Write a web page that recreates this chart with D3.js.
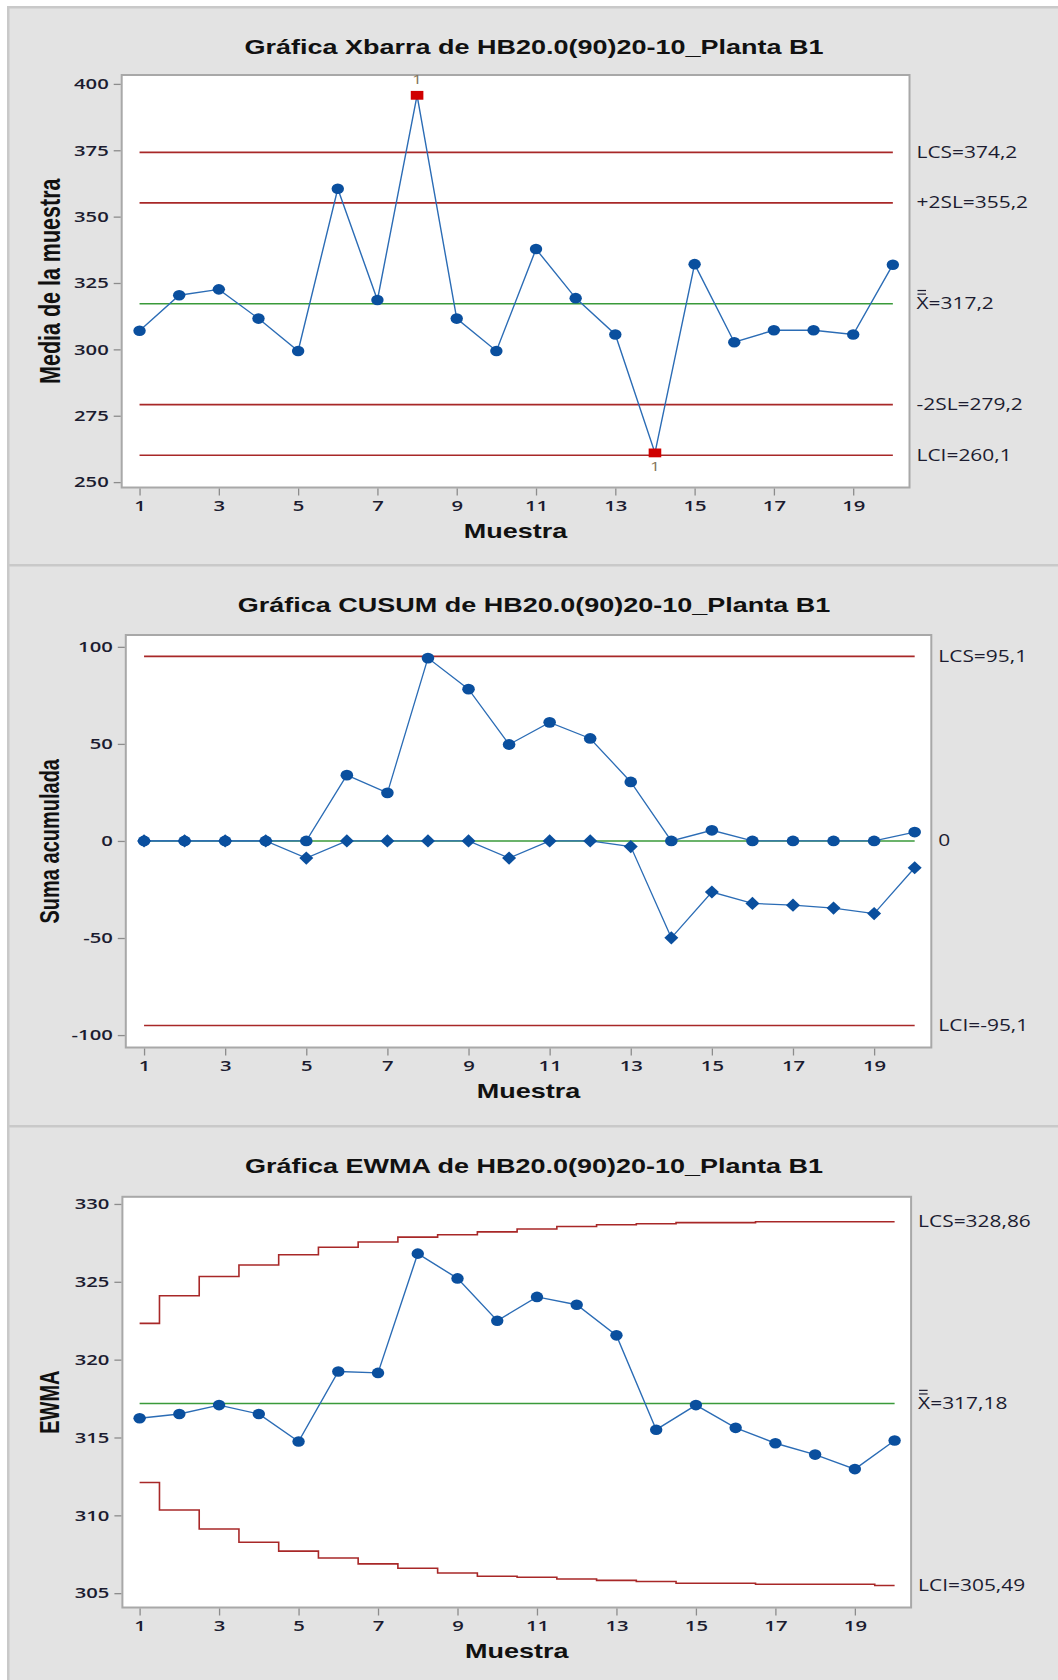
<!DOCTYPE html>
<html>
<head>
<meta charset="utf-8">
<script src="https://cdn.jsdelivr.net/npm/d3@7"></script>
<style>
body { margin: 0; background: #fff; }
svg { display: block; }
</style>
</head>
<body>
<div id="chart"></div>
<script>
// samples on the x axis
var samples = [1, 2, 3, 4, 5, 6, 7, 8, 9, 10, 11, 12, 13, 14, 15, 16, 17, 18, 19, 20];
var xTickValues = [1, 3, 5, 7, 9, 11, 13, 15, 17, 19];

// Xbarra chart
var xbarValues = [307.0, 320.4, 322.6, 311.6, 299.4, 360.5, 318.6, 395.7, 311.6, 299.4,
                  337.8, 319.3, 305.6, 261.0, 332.1, 302.7, 307.2, 307.2, 305.6, 331.9];
var xbarOutOfControl = [8, 14];
var xbarLimitValues = [374.2, 355.2, 317.2, 279.2, 260.1];
var xbarLimitLabels = ['LCS=374,2', '+2SL=355,2', 'X=317,2', '-2SL=279,2', 'LCI=260,1'];
var xbarTicks = [250, 275, 300, 325, 350, 375, 400];

// CUSUM chart
var cusumUpper = [0, 0, 0, 0, 0, 33.9, 24.8, 94.2, 78.2, 49.7,
                  61.1, 52.8, 30.4, 0, 5.5, 0, 0, 0, 0, 4.6];
var cusumLower = [0, 0, 0, 0, -8.8, 0, 0, 0, 0, -8.8,
                  0, 0, -2.9, -49.9, -26.3, -32.2, -33.1, -34.6, -37.4, -13.8];
var cusumLimitValues = [95.1, 0, -95.1];
var cusumLimitLabels = ['LCS=95,1', '0', 'LCI=-95,1'];
var cusumTicks = [-100, -50, 0, 50, 100];

// EWMA chart
var ewmaValues = [316.24, 316.51, 317.08, 316.51, 314.74, 319.24, 319.15, 326.81, 325.22, 322.50,
                  324.03, 323.53, 321.56, 315.50, 317.08, 315.62, 314.63, 313.90, 312.97, 314.81];
var ewmaUpper = [322.33, 324.10, 325.34, 326.08, 326.74, 327.22, 327.56, 327.87, 328.02, 328.21,
                 328.39, 328.55, 328.66, 328.73, 328.80, 328.80, 328.86, 328.86, 328.86, 328.86];
var ewmaLower = [312.11, 310.34, 309.12, 308.27, 307.70, 307.26, 306.88, 306.60, 306.30, 306.09,
                 306.02, 305.91, 305.82, 305.75, 305.64, 305.64, 305.57, 305.57, 305.57, 305.49];
var ewmaCenter = 317.18;
var ewmaLimitLabels = ['LCS=328,86', 'X=317,18', 'LCI=305,49'];
var ewmaTicks = [305, 310, 315, 320, 325, 330];

var SX = 1.35;  // the picture is stretched sideways
var color_line = '#2b6cb5';
var color_marker = '#0a4f9e';
var color_limit = '#a82828';
var color_center = '#3a9a3a';
var color_text = '#1c1c30';
var font_bold = "'Liberation Sans', Arial, sans-serif";
var font_reg = "'Open Sans', 'Noto Sans', sans-serif";

var svg = d3.select('#chart').append('svg')
    .attr('width', 1058)
    .attr('height', 1680);

function stretchedText(x, y, str){
    return svg.append('text')
        .attr('transform', 'translate(' + x + ',' + y + ') scale(' + SX + ',1)')
        .attr('fill', color_text)
        .text(str);
}

function plainNumber(d){ return String(d); }

function makePanel(p){
    svg.append('rect')
        .attr('x', 7).attr('y', p.y0)
        .attr('width', 1051).attr('height', p.y1 - p.y0)
        .attr('fill', '#e3e3e3');
    svg.append('rect')
        .attr('x', 7).attr('y', p.y0)
        .attr('width', 1051).attr('height', 2.5)
        .attr('fill', '#c9c9c9');
    svg.append('rect')
        .attr('x', 7).attr('y', p.y0)
        .attr('width', 2.5).attr('height', p.y1 - p.y0)
        .attr('fill', '#c9c9c9');

    var x = d3.scaleLinear().domain(p.xDomain).range([p.l, p.r]);
    var y = d3.scaleLinear().domain(p.yDomain).range([p.b, p.t]);

    svg.append('rect')
        .attr('x', p.l).attr('y', p.t)
        .attr('width', p.r - p.l).attr('height', p.b - p.t)
        .attr('fill', '#fff')
        .attr('stroke', '#a8a8a8')
        .attr('stroke-width', 2);

    var y_axis = svg.append('g')
        .attr('transform', 'translate(' + (p.l - 1) + ',0)')
        .call(d3.axisLeft(y).tickValues(p.yTicks).tickFormat(plainNumber).tickSize(7).tickPadding(5));
    y_axis.select('.domain').remove();
    y_axis.selectAll('line').attr('stroke', '#8c8c8c').attr('stroke-width', 1.3);
    y_axis.selectAll('text')
        .attr('x', 0)
        .attr('transform', 'translate(-12,0) scale(' + SX + ',1)')
        .attr('fill', color_text)
        .style('font-family', font_reg)
        .style('font-weight', 600)
        .style('font-size', '15px');

    var x_axis = svg.append('g')
        .attr('transform', 'translate(0,' + (p.b + 1) + ')')
        .call(d3.axisBottom(x).tickValues(xTickValues).tickFormat(plainNumber).tickSize(7).tickPadding(5));
    x_axis.select('.domain').remove();
    x_axis.selectAll('line').attr('stroke', '#8c8c8c').attr('stroke-width', 1.3);
    x_axis.selectAll('text')
        .attr('transform', 'scale(' + SX + ',1)')
        .attr('fill', color_text)
        .style('font-family', font_reg)
        .style('font-weight', 600)
        .style('font-size', '15px');

    // titles
    stretchedText(534, p.y0 + 47.5, p.title)
        .attr('text-anchor', 'middle')
        .style('font-family', font_bold)
        .style('font-weight', 'bold')
        .style('font-size', '20px')
        .attr('fill', '#111');
    stretchedText((p.l + p.r) / 2, p.b + 50, 'Muestra')
        .attr('text-anchor', 'middle')
        .style('font-family', font_bold)
        .style('font-weight', 'bold')
        .style('font-size', '20px')
        .attr('fill', '#111');
    svg.append('text')
        .attr('transform', 'translate(50,' + ((p.t + p.b) / 2) + ') scale(' + SX + ',1) rotate(-90)')
        .attr('text-anchor', 'middle')
        .attr('dy', '0.35em')
        .attr('fill', '#111')
        .style('font-family', font_bold)
        .style('font-weight', 'bold')
        .style('font-size', p.yTitleSize + 'px')
        .text(p.yTitle);

    return {x: x, y: y, p: p};
}

function limitLine(panel, value, color){
    svg.append('line')
        .attr('x1', panel.x(1)).attr('x2', panel.x(20))
        .attr('y1', panel.y(value)).attr('y2', panel.y(value))
        .attr('stroke', color)
        .attr('stroke-width', 1.6);
}

function limitLabel(panel, value, str){
    var lx = panel.p.r + 7;
    var ly = panel.y(value);
    stretchedText(lx, ly, str)
        .attr('dy', '0.35em')
        .style('font-family', font_reg)
        .style('font-size', '15.5px');
    if(str.charAt(0) === 'X'){
        [13.2, 9.6].forEach(function(off){
            svg.append('line')
                .attr('x1', lx + 1).attr('x2', lx + 9.5)
                .attr('y1', ly - off).attr('y2', ly - off)
                .attr('stroke', color_text)
                .attr('stroke-width', 1.2);
        });
    }
}

function seriesLine(panel, values, curve){
    var line = d3.line()
        .x(function(d, i){ return panel.x(samples[i]); })
        .y(function(d){ return panel.y(d); });
    if(curve) line.curve(curve);
    return svg.append('path')
        .datum(values)
        .attr('d', line)
        .attr('fill', 'none');
}

// ---------- Xbarra ----------
var p1 = makePanel({
    y0: 6, y1: 564, l: 121.7, t: 75, r: 909.5, b: 487.5,
    xDomain: [0.55, 20.42], yDomain: [247.97, 403.35], yTicks: xbarTicks,
    title: 'Gráfica Xbarra de HB20.0(90)20-10_Planta B1',
    yTitle: 'Media de la muestra', yTitleSize: 21.5
});
xbarLimitValues.forEach(function(v, i){
    limitLine(p1, v, i === 2 ? color_center : color_limit);
    limitLabel(p1, v, xbarLimitLabels[i]);
});
seriesLine(p1, xbarValues).attr('stroke', color_line).attr('stroke-width', 1.4);
svg.append('g').selectAll('ellipse')
    .data(samples.filter(function(s){ return xbarOutOfControl.indexOf(s) < 0; }))
    .enter()
    .append('ellipse')
        .attr('cx', function(s){ return p1.x(s); })
        .attr('cy', function(s){ return p1.y(xbarValues[s - 1]); })
        .attr('rx', 6.2).attr('ry', 5.3)
        .attr('fill', color_marker);
svg.append('g').selectAll('rect')
    .data(xbarOutOfControl)
    .enter()
    .append('rect')
        .attr('x', function(s){ return p1.x(s) - 6.3; })
        .attr('y', function(s){ return p1.y(xbarValues[s - 1]) - 4.4; })
        .attr('width', 12.6).attr('height', 8.8)
        .attr('fill', '#d00000');
xbarOutOfControl.forEach(function(s){
    var v = xbarValues[s - 1];
    var above = v > xbarLimitValues[0];
    stretchedText(p1.x(s), p1.y(v) + (above ? -16 : 14), '1')
        .attr('text-anchor', 'middle')
        .attr('dy', '0.35em')
        .attr('fill', '#85745a')
        .style('font-family', font_reg)
        .style('font-size', '13px');
});

// ---------- CUSUM ----------
var p2 = makePanel({
    y0: 564, y1: 1125, l: 125.8, t: 635, r: 931.3, b: 1047.5,
    xDomain: [0.55, 20.41], yDomain: [-106.4, 106.1], yTicks: cusumTicks,
    title: 'Gráfica CUSUM de HB20.0(90)20-10_Planta B1',
    yTitle: 'Suma acumulada', yTitleSize: 20
});
cusumLimitValues.forEach(function(v, i){
    limitLine(p2, v, i === 1 ? color_center : color_limit);
    limitLabel(p2, v, cusumLimitLabels[i]);
});
seriesLine(p2, cusumUpper).attr('stroke', color_line).attr('stroke-width', 1.3);
seriesLine(p2, cusumLower).attr('stroke', color_line).attr('stroke-width', 1.3);
svg.append('g').selectAll('ellipse')
    .data(cusumUpper)
    .enter()
    .append('ellipse')
        .attr('cx', function(d, i){ return p2.x(samples[i]); })
        .attr('cy', function(d){ return p2.y(d); })
        .attr('rx', 6.3).attr('ry', 5.4)
        .attr('fill', color_marker);
svg.append('g').selectAll('path')
    .data(cusumLower)
    .enter()
    .append('path')
        .attr('d', 'M0,-6.6L7,0L0,6.6L-7,0Z')
        .attr('transform', function(d, i){ return 'translate(' + p2.x(samples[i]) + ',' + p2.y(d) + ')'; })
        .attr('fill', color_marker);

// ---------- EWMA ----------
var p3 = makePanel({
    y0: 1125, y1: 1680, l: 122.4, t: 1196.8, r: 911.1, b: 1607.5,
    xDomain: [0.567, 20.415], yDomain: [304.08, 330.46], yTicks: ewmaTicks,
    title: 'Gráfica EWMA de HB20.0(90)20-10_Planta B1',
    yTitle: 'EWMA', yTitleSize: 20
});
limitLine(p3, ewmaCenter, color_center);
seriesLine(p3, ewmaUpper, d3.curveStep).attr('stroke', color_limit).attr('stroke-width', 1.6);
seriesLine(p3, ewmaLower, d3.curveStep).attr('stroke', color_limit).attr('stroke-width', 1.6);
limitLabel(p3, ewmaUpper[ewmaUpper.length - 1], ewmaLimitLabels[0]);
limitLabel(p3, ewmaCenter, ewmaLimitLabels[1]);
limitLabel(p3, ewmaLower[ewmaLower.length - 1], ewmaLimitLabels[2]);
seriesLine(p3, ewmaValues).attr('stroke', color_line).attr('stroke-width', 1.4);
svg.append('g').selectAll('ellipse')
    .data(ewmaValues)
    .enter()
    .append('ellipse')
        .attr('cx', function(d, i){ return p3.x(samples[i]); })
        .attr('cy', function(d){ return p3.y(d); })
        .attr('rx', 6.2).attr('ry', 5.3)
        .attr('fill', color_marker);
</script>
</body>
</html>
